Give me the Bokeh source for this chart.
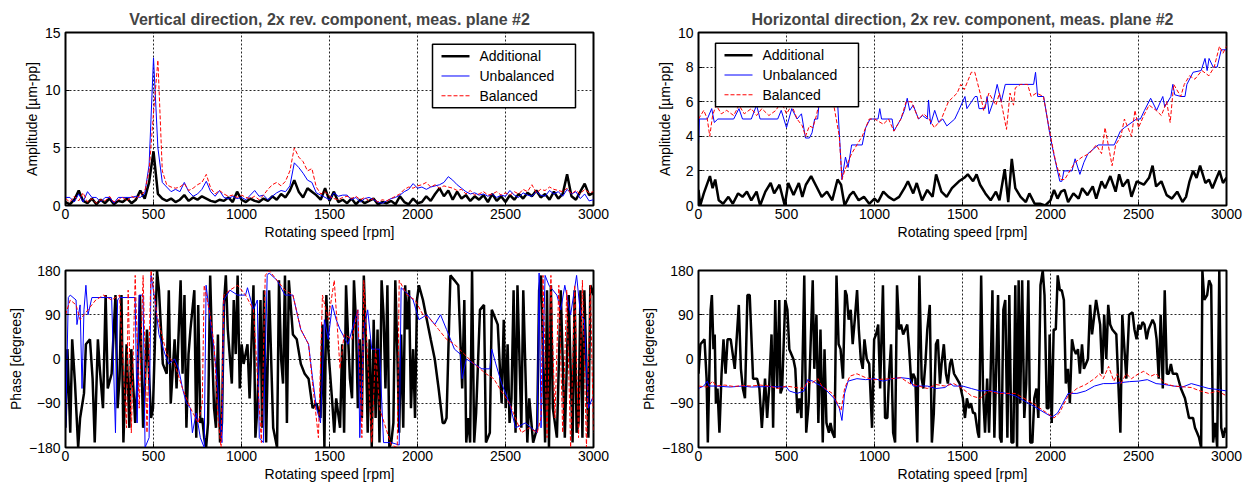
from bokeh.plotting import figure
from bokeh.layouts import column, row
from bokeh.models import Range1d, FixedTicker, ColumnDataSource
from bokeh.core.properties import value
from bokeh.embed import file_html
from bokeh.resources import INLINE

# ---------------- data ----------------
speed_ticks = [0, 500, 1000, 1500, 2000, 2500, 3000]
amp_v_ticks = [0, 5, 10, 15]
amp_h_ticks = [0, 2, 4, 6, 8, 10]
phase_ticks = [-180, -90, 0, 90, 180]
series_names = ["Additional", "Unbalanced", "Balanced"]

# vertical amplitude, sampled every 25 rpm
v_speed = list(range(0, 3001, 25))
v_amp_add = [0.3,0.1,0.5,1.3,0.4,0.2,0.6,0.1,0.5,0.2,
             0.6,0.1,0.4,0.3,0.6,0.2,0.5,1.3,0.6,2.0,
             4.7,1.0,0.6,0.4,0.6,0.3,0.5,0.9,0.4,0.7,
             0.5,0.8,0.6,0.4,0.3,0.5,0.4,0.7,0.3,1.2,
             0.5,0.3,0.6,0.4,0.3,0.6,0.4,0.8,0.5,1.0,
             0.7,1.3,2.2,1.2,0.7,1.5,1.2,0.9,0.5,1.5,
             0.4,1.2,0.3,0.5,0.2,0.6,0.1,0.5,0.2,0.4,
             0.6,0.1,0.3,0.2,0.4,0.1,0.8,0.3,0.1,0.6,
             0.2,0.3,0.8,0.4,1.0,1.5,0.8,1.3,0.5,1.2,
             0.6,0.9,0.4,0.8,0.5,0.9,0.3,1.0,0.4,0.8,
             0.3,0.9,0.5,1.0,0.6,1.1,0.8,1.3,0.7,1.0,
             0.5,1.2,0.6,1.0,2.7,0.8,0.5,1.2,1.9,0.9,
             1.1]
v_amp_unb = [0.7,0.7,0.3,1.0,0.3,1.2,0.7,0.7,0.3,0.7,
             0.7,0.2,0.7,0.7,0.7,0.7,0.8,0.7,1.0,3.5,
             12.8,5.0,2.0,1.6,1.2,1.4,1.2,2.0,1.2,0.8,
             1.0,1.4,2.1,1.2,0.8,1.3,0.7,0.6,0.8,0.6,
             0.7,0.5,0.9,1.3,0.8,0.9,0.5,0.8,1.1,1.3,
             1.2,1.7,3.7,3.3,2.8,2.2,2.0,1.1,0.9,0.7,
             0.5,1.1,0.8,0.9,0.9,0.5,0.7,0.3,0.6,0.7,
             0.5,0.3,0.2,0.4,0.6,0.7,0.9,1.2,1.4,1.9,
             1.5,1.6,1.4,1.6,1.7,1.8,2.0,2.5,2.2,1.8,
             1.5,1.2,1.0,1.1,0.9,1.0,0.8,1.0,0.7,0.9,
             0.8,1.3,0.9,0.7,1.1,0.9,0.8,1.2,0.9,0.8,
             1.3,1.0,1.2,0.8,1.4,1.0,1.2,0.6,1.0,0.4,
             0.5]
v_amp_bal = [0.6,0.3,0.8,0.4,1.1,0.3,0.6,0.2,0.5,0.4,
             0.8,0.3,0.5,0.7,0.4,0.8,0.6,0.9,1.2,3.0,
             8.0,12.6,3.0,1.8,1.6,1.5,1.6,1.9,1.3,1.5,
             1.8,2.0,2.7,1.5,1.0,1.3,1.0,0.8,0.9,0.7,
             0.9,0.7,0.6,0.8,0.5,0.9,1.4,1.8,2.0,1.7,
             2.1,3.0,5.0,4.2,3.8,3.0,3.2,1.6,1.0,1.2,
             0.8,0.6,0.5,0.7,0.8,0.6,0.8,0.5,0.7,0.4,
             0.6,0.3,0.5,0.4,0.6,0.8,1.0,1.4,1.6,1.5,
             1.7,1.8,2.0,1.6,1.8,1.5,1.7,1.6,1.5,1.3,
             1.4,1.0,1.3,0.9,1.0,1.2,0.9,1.0,1.2,0.9,
             1.1,0.9,1.2,1.0,1.4,1.2,1.8,1.1,1.4,1.3,
             1.6,1.4,1.3,1.2,1.5,1.0,1.3,1.0,1.4,1.1,
             1.2]

# horizontal amplitude, (rpm, um-pp) pairs
h_amp_add = [(0,0.9),(10,0.0),(30,0.7),(65,1.7),(80,1.0),(95,1.5),(115,0.3),(140,0.1),(170,0.5),(195,0.1),
             (225,0.7),(250,0.5),(275,0.8),(300,0.3),(330,0.8),(350,0.0),(380,0.8),(410,1.3),(430,0.7),(460,1.2),
             (490,0.0),(510,1.3),(540,0.6),(570,1.3),(590,0.5),(610,1.2),(640,1.7),(670,1.1),(700,0.5),(730,0.8),
             (760,0.3),(790,1.5),(810,1.2),(830,0.0),(860,0.6),(880,0.8),(910,0.3),(940,0.5),(970,0.1),(1000,0.4),
             (1020,0.2),(1050,0.8),(1080,0.5),(1110,0.3),(1140,0.5),(1170,1.0),(1190,1.4),(1220,0.7),(1240,1.3),(1270,0.3),
             (1300,0.9),(1330,0.5),(1350,1.8),(1380,0.8),(1410,0.5),(1440,1.0),(1480,1.4),(1510,1.6),(1530,1.8),(1560,1.4),
             (1580,1.8),(1600,1.2),(1630,0.7),(1660,0.3),(1690,0.8),(1710,0.3),(1740,2.1),(1760,0.2),(1780,2.7),(1800,1.0),
             (1830,0.5),(1860,0.2),(1880,0.7),(1910,0.1),(1940,0.1),(1970,0.0),(2000,0.3),(2020,0.9),(2040,0.4),(2060,0.8),
             (2080,0.9),(2100,0.2),(2130,0.7),(2160,0.4),(2180,1.0),(2210,0.6),(2240,1.1),(2260,0.4),(2290,1.4),(2310,1.0),
             (2340,1.7),(2370,0.8),(2390,1.8),(2410,1.1),(2440,1.5),(2460,0.5),(2490,1.4),(2530,1.2),(2560,1.6),(2580,2.3),
             (2600,1.1),(2630,1.4),(2660,0.6),(2690,0.4),(2720,0.8),(2750,0.2),(2770,0.5),(2790,1.4),(2810,2.0),(2830,1.6),
             (2850,2.3),(2880,1.3),(2900,1.5),(2920,1.0),(2940,1.5),(2960,2.0),(2980,1.3),(3000,1.6)]
h_amp_unb = [(0,3.5),(5,5.0),(50,5.0),(75,5.6),(90,4.8),(110,5.0),(200,5.0),(230,5.6),(250,5.0),(300,5.0),
             (330,5.8),(350,5.0),(450,5.0),(470,5.5),(500,4.5),(530,5.6),(560,5.0),(585,5.3),(608,3.9),(630,3.9),
             (645,4.2),(660,5.0),(677,5.0),(690,6.5),(710,6.8),(760,6.5),(790,6.0),(815,1.5),(835,2.8),(850,2.2),
             (870,3.5),(930,3.5),(950,4.5),(975,5.0),(1020,5.0),(1030,5.6),(1040,5.0),(1100,5.0),(1110,4.3),(1150,5.0),
             (1170,5.5),(1186,6.2),(1200,5.5),(1220,5.8),(1250,5.0),(1273,5.2),(1300,5.0),(1307,6.1),(1319,4.7),(1342,5.5),
             (1365,4.8),(1388,5.0),(1411,4.6),(1456,5.0),(1479,5.5),(1514,6.3),(1525,5.6),(1571,6.3),(1583,6.3),(1594,5.6),
             (1628,5.6),(1640,6.3),(1651,5.3),(1675,6.0),(1697,7.0),(1720,6.0),(1743,7.0),(1904,7.0),(1915,7.7),(1927,6.3),
             (1961,6.3),(1995,4.2),(2018,3.0),(2053,1.4),(2065,1.4),(2076,2.0),(2122,2.0),(2140,2.7),(2167,1.8),(2190,2.5),
             (2213,3.0),(2271,3.5),(2362,3.5),(2397,4.3),(2420,4.5),(2489,5.0),(2511,5.0),(2534,5.5),(2569,6.2),(2603,5.5),
             (2638,6.3),(2649,5.7),(2684,6.3),(2695,7.0),(2706,6.4),(2741,6.3),(2764,6.3),(2775,7.0),(2810,7.7),(2856,7.8),
             (2878,8.5),(2890,7.8),(2901,8.5),(2924,8.0),(2947,8.0),(2970,9.0),(3000,9.0)]
h_amp_bal = [(0,5.0),(30,5.5),(50,5.0),(64,4.0),(80,5.2),(100,5.8),(130,5.3),(160,5.5),(200,5.2),(230,5.8),
             (260,5.3),(300,5.6),(330,5.2),(360,5.6),(400,5.2),(440,5.5),(470,6.0),(500,5.3),(530,5.8),(560,5.0),
             (590,4.6),(608,4.0),(630,4.6),(650,4.5),(670,5.2),(690,6.2),(720,6.5),(760,6.3),(800,4.0),(815,1.5),
             (830,2.0),(870,3.0),(900,3.5),(930,4.0),(970,5.0),(1000,5.0),(1050,4.7),(1080,5.0),(1110,4.3),(1150,5.0),
             (1180,6.0),(1210,6.0),(1250,5.0),(1280,5.3),(1310,5.0),(1340,4.5),(1380,5.0),(1420,6.0),(1470,6.5),(1490,7.0),
             (1510,6.7),(1550,7.7),(1570,7.7),(1600,6.5),(1620,5.5),(1650,6.5),(1690,5.8),(1710,6.5),(1750,4.4),(1770,6.5),
             (1790,5.8),(1800,6.8),(1830,7.0),(1870,7.0),(1890,6.3),(1920,6.5),(1960,6.3),(2000,4.0),(2030,2.5),(2060,1.5),
             (2080,1.5),(2110,2.0),(2140,2.5),(2180,2.8),(2220,3.0),(2260,3.5),(2290,3.0),(2310,4.5),(2350,2.3),(2370,3.5),
             (2400,4.0),(2420,5.0),(2460,4.0),(2480,5.5),(2500,4.5),(2530,5.2),(2560,5.8),(2600,5.5),(2630,5.2),(2660,6.0),
             (2680,4.8),(2700,7.0),(2740,6.3),(2760,7.0),(2790,7.5),(2820,7.3),(2860,7.8),(2900,7.5),(2930,8.0),(2960,9.2),
             (2980,8.8),(3000,9.2)]

# vertical phase, (rpm, degrees) pairs
v_ph_add = [(0,-140),(11,20),(27,-150),(38,40),(54,-50),(72,-180),(83,-120),(105,-70),(116,30),(139,40),
            (154,-40),(166,-170),(184,40),(195,-20),(213,-100),(228,130),(240,-60),(262,-30),(284,130),(296,-100),
            (307,-40),(318,130),(329,-170),(347,30),(363,-140),(374,20),(396,-130),(407,-60),(423,130),(441,-140),
            (463,60),(486,-120),(497,-100),(520,180),(531,140),(553,-10),(575,-30),(587,140),(598,-90),(620,40),
            (631,-60),(654,160),(665,-30),(676,130),(687,-140),(699,10),(710,60),(732,140),(743,-160),(754,110),
            (766,-130),(777,-120),(788,-160),(799,-180),(810,-130),(822,170),(833,20),(844,-100),(855,-140),(866,50),
            (878,-170),(889,-130),(900,110),(911,170),(922,60),(945,-50),(956,120),(967,10),(978,170),(990,-60),
            (1001,30),(1012,-10),(1034,30),(1046,-80),(1068,150),(1079,-160),(1090,-100),(1108,120),(1117,-140),(1128,140),
            (1140,-170),(1157,140),(1180,-140),(1202,-180),(1213,160),(1225,0),(1236,-50),(1247,170),(1258,-130),(1269,160),
            (1292,50),(1314,40),(1337,-10),(1359,-30),(1381,-40),(1404,-100),(1426,-90),(1449,-120),(1460,70),(1471,-180),
            (1482,130),(1493,20),(1516,-90),(1527,-150),(1538,-80),(1560,-140),(1572,30),(1583,-150),(1594,150),(1605,50),
            (1616,-40),(1628,-80),(1639,160),(1650,80),(1661,-100),(1672,40),(1684,-120),(1695,170),(1706,50),(1717,-150),
            (1728,40),(1740,-180),(1751,80),(1762,-120),(1773,60),(1784,-170),(1796,160),(1807,90),(1818,-60),(1829,150),
            (1840,-180),(1851,-170),(1863,-130),(1874,160),(1885,20),(1896,-150),(1907,50),(1919,-140),(1930,150),(1941,60),
            (1952,140),(1963,-100),(1975,20),(1986,-120),(1997,120),(2008,150),(2031,120),(2053,80),(2075,40),(2098,0),
            (2120,-60),(2143,-130),(2154,-130),(2165,-120),(2187,170),(2210,160),(2232,150),(2254,-60),(2266,120),(2277,-170),
            (2288,-120),(2299,-170),(2310,180),(2322,-170),(2333,-110),(2355,100),(2378,110),(2389,-170),(2411,-150),(2422,100),
            (2445,80),(2456,70),(2478,-90),(2490,80),(2501,-100),(2512,30),(2523,-130),(2534,-80),(2546,140),(2557,-150),
            (2568,150),(2590,-140),(2601,140),(2624,-170),(2635,-80),(2657,-170),(2680,-140),(2691,140),(2702,170),(2725,-170),
            (2736,140),(2747,-180),(2758,150),(2769,-100),(2792,-160),(2814,140),(2837,-160),(2859,130),(2881,-170),(2893,140),
            (2904,-150),(2915,-130),(2926,140),(2937,-160),(2948,140),(2971,-160),(2982,150),(2993,140),(3000,130)]
v_ph_unb = [(0,-150),(16,125),(27,130),(60,120),(65,70),(83,110),(94,-60),(105,100),(116,150),(128,90),
            (150,125),(262,125),(284,-150),(296,120),(307,125),(396,125),(407,-130),(419,130),(441,130),(452,-180),
            (475,-160),(486,170),(508,120),(531,50),(565,10),(587,-10),(620,0),(643,-20),(665,-60),(687,-90),
            (710,-100),(721,-150),(743,-110),(766,-160),(788,-180),(799,150),(822,80),(844,20),(866,-60),(878,-130),
            (889,-170),(900,120),(934,140),(978,130),(1023,130),(1034,145),(1068,100),(1090,120),(1101,-160),(1124,-170),
            (1146,170),(1157,175),(1202,160),(1247,130),(1292,130),(1337,60),(1381,30),(1404,-40),(1426,-100),(1449,-130),
            (1471,80),(1493,40),(1516,110),(1538,80),(1560,60),(1605,30),(1661,100),(1672,-160),(1695,60),(1717,100),
            (1740,20),(1784,20),(1807,-170),(1851,-170),(1896,-175),(1907,145),(1952,130),(1975,120),(2008,80),(2053,90),
            (2098,70),(2131,90),(2165,60),(2210,20),(2243,10),(2254,-40),(2277,0),(2322,-10),(2366,-20),(2411,-20),
            (2422,20),(2445,-10),(2478,-50),(2523,-90),(2557,-140),(2613,-130),(2680,-150),(2691,175),(2702,-140),(2725,170),
            (2747,150),(2792,130),(2814,100),(2837,150),(2870,90),(2904,170),(2926,90),(2948,80),(2971,-100),(2993,-80),
            (3000,-80)]
v_ph_bal = [(0,90),(27,120),(60,110),(83,80),(105,90),(172,120),(217,130),(262,120),(307,130),(347,-140),
            (356,140),(374,-150),(396,170),(419,-100),(441,170),(463,-150),(486,180),(519,90),(575,10),(620,-10),
            (665,-60),(710,-100),(754,-130),(777,-90),(788,150),(822,90),(844,30),(866,-120),(884,-180),(900,130),
            (934,140),(978,150),(1023,130),(1068,100),(1113,-170),(1135,170),(1157,180),(1202,160),(1247,140),(1292,130),
            (1337,60),(1381,30),(1404,-50),(1437,-160),(1460,130),(1493,80),(1527,160),(1560,-20),(1583,50),(1628,40),
            (1661,100),(1684,-160),(1695,160),(1740,-170),(1762,20),(1784,-100),(1851,-175),(1885,-180),(1896,160),(1941,130),
            (1986,120),(2031,90),(2075,80),(2120,60),(2165,40),(2210,30),(2266,10),(2322,-10),(2389,-30),(2433,-40),
            (2467,-60),(2523,-90),(2590,-150),(2635,-140),(2680,-150),(2702,-120),(2713,170),(2736,-160),(2758,170),(2781,-120),
            (2803,150),(2825,-150),(2848,140),(2870,-180),(2893,150),(2915,-160),(2937,160),(2960,-180),(2982,150),(3000,-150)]

# horizontal phase, (rpm, degrees) pairs
h_ph_add = [(0,-30),(11,30),(34,40),(46,-40),(53,-170),(62,-20),(69,100),(76,130),(85,20),(92,50),
            (99,-90),(108,-60),(119,-150),(131,-30),(142,40),(154,-30),(165,40),(183,40),(206,-20),(229,110),
            (241,-20),(252,-60),(264,-80),(278,130),(291,130),(310,-40),(333,-40),(346,-60),(360,-140),(378,-40),
            (390,-120),(401,-60),(415,50),(424,-140),(436,120),(447,-60),(459,120),(466,-70),(475,-60),(493,120),
            (505,100),(516,20),(539,0),(550,-20),(562,-110),(573,-80),(585,-120),(601,170),(612,-150),(626,-90),
            (649,160),(658,-20),(670,90),(681,-130),(693,60),(706,-170),(716,20),(727,-130),(741,-150),(750,-130),
            (761,-150),(773,-160),(784,170),(796,30),(807,20),(821,-40),(833,140),(842,130),(853,80),(865,100),
            (876,30),(888,80),(901,140),(911,60),(922,0),(933,-20),(943,40),(956,0),(970,-10),(986,-140),
            (998,40),(1009,50),(1021,70),(1032,-60),(1048,150),(1060,-120),(1073,-120),(1083,-30),(1094,30),(1106,-150),
            (1117,-170),(1128,150),(1140,60),(1151,70),(1163,50),(1186,70),(1197,20),(1209,-50),(1220,-30),(1232,-40),
            (1243,-170),(1255,170),(1268,-40),(1278,-60),(1289,-10),(1300,60),(1314,110),(1326,-170),(1337,-110),(1349,30),
            (1360,40),(1372,-50),(1381,-10),(1394,30),(1406,-30),(1417,-50),(1429,-10),(1438,0),(1452,-30),(1468,-40),
            (1484,-50),(1502,-80),(1514,-120),(1525,-80),(1537,-100),(1548,-90),(1560,-110),(1571,-110),(1587,-150),(1594,-160),
            (1606,170),(1617,-70),(1628,-150),(1640,-40),(1651,-150),(1658,-60),(1670,140),(1681,-160),(1690,-40),(1702,130),
            (1713,-160),(1722,-170),(1732,100),(1743,120),(1755,-160),(1766,130),(1778,-170),(1789,-170),(1800,150),(1810,-180),
            (1819,160),(1828,-90),(1839,160),(1851,-120),(1862,-50),(1874,160),(1885,-170),(1897,-170),(1908,-80),(1920,-60),
            (1931,-120),(1943,150),(1956,180),(1966,130),(1979,-100),(1989,-100),(1995,50),(2007,-130),(2018,60),(2030,60),
            (2041,170),(2053,140),(2064,140),(2076,120),(2087,-50),(2099,-20),(2110,-90),(2122,40),(2133,20),(2145,10),
            (2156,20),(2167,-30),(2179,30),(2190,-20),(2213,0),(2225,110),(2236,50),(2259,120),(2282,70),(2294,-30),
            (2305,90),(2317,0),(2328,110),(2339,70),(2351,60),(2374,50),(2397,-150),(2408,90),(2420,20),(2431,-40),
            (2447,90),(2466,95),(2477,60),(2489,40),(2500,70),(2511,60),(2523,75),(2534,70),(2546,40),(2557,60),
            (2580,80),(2592,70),(2603,40),(2615,-40),(2626,90),(2638,-60),(2649,140),(2661,-30),(2672,-30),(2684,-10),
            (2695,-30),(2718,-30),(2741,-60),(2764,-80),(2787,-120),(2810,-120),(2821,-140),(2833,-150),(2844,-160),(2856,-180),
            (2863,180),(2874,120),(2890,130),(2901,160),(2913,150),(2924,-170),(2936,-130),(2947,-180),(2959,180),(2970,-140),
            (2982,-160),(2993,-140),(3000,-150)]
h_ph_unb = [(0,-60),(30,-55),(50,-45),(60,-55),(100,-55),(180,-57),(250,-55),(300,-57),(400,-56),(500,-57),
            (516,-65),(560,-70),(600,-65),(620,-42),(650,-45),(670,-50),(700,-55),(730,-65),(770,-80),(800,-100),
            (815,-125),(830,-70),(850,-45),(900,-40),(950,-42),(1000,-40),(1050,-45),(1100,-40),(1150,-38),(1200,-40),
            (1220,-55),(1300,-55),(1350,-60),(1400,-58),(1430,-50),(1450,-55),(1500,-55),(1550,-60),(1600,-65),(1650,-64),
            (1700,-67),(1750,-70),(1800,-75),(1850,-85),(1900,-95),(1970,-110),(2010,-118),(2040,-110),(2070,-90),(2100,-70),
            (2150,-70),(2200,-65),(2250,-55),(2300,-50),(2350,-50),(2400,-48),(2450,-46),(2500,-45),(2550,-42),(2600,-50),
            (2650,-52),(2700,-55),(2750,-57),(2800,-50),(2850,-55),(2900,-60),(2950,-62),(3000,-65)]
h_ph_bal = [(0,-55),(50,-57),(80,-45),(100,-55),(150,-53),(200,-56),(250,-54),(300,-55),(350,-53),(400,-55),
            (450,-60),(500,-55),(550,-58),(600,-60),(620,-45),(640,-50),(680,-40),(700,-55),(760,-70),(790,-90),
            (810,-105),(830,-60),(860,-35),(900,-30),(950,-38),(1000,-42),(1100,-40),(1150,-38),(1200,-50),(1250,-55),
            (1300,-60),(1350,-52),(1400,-55),(1450,-50),(1500,-60),(1550,-75),(1600,-80),(1650,-65),(1700,-70),(1800,-70),
            (1900,-90),(1980,-110),(2020,-120),(2050,-110),(2100,-75),(2150,-60),(2200,-52),(2250,-40),(2280,-30),(2300,-40),
            (2330,-15),(2360,-45),(2380,-30),(2400,-50),(2430,-30),(2460,-40),(2500,-30),(2530,-25),(2570,-35),(2600,-30),
            (2650,-50),(2700,-55),(2800,-58),(2850,-65),(2900,-70),(2950,-65),(3000,-75)]

# ---------------- layout constants (pixels) ----------------
FONT = "Liberation Sans"
STYLES = [dict(line_color="black", line_width=2.5),
          dict(line_color="blue", line_width=1),
          dict(line_color="red", line_width=1, line_dash="4 2")]
FRAME_W, FRAME_H = 528, 175          # plot-area size of the amplitude panels
LEG_W, LEG_H, LEG_ROW = 143, 64, 20  # legend box size and row height
KEY_X0, KEY_X1, TEXT_X = 9, 37, 47   # key line span and label start inside the box


def make_fig(width, height, bl, br, bt, bb, yr, yticks, ylabel, title=None):
    kw = dict(width=width, height=height, x_range=Range1d(0, 3000), y_range=Range1d(*yr),
              output_backend="svg", toolbar_location=None,
              min_border_left=bl, min_border_right=br, min_border_top=bt, min_border_bottom=bb)
    if title:
        kw["title"] = title
    p = figure(**kw)
    if title:
        p.title.align = "center"
        p.title.text_font = FONT
        p.title.text_font_size = "16px"
        p.title.text_font_style = "bold"
        p.title.standoff = 9
    else:
        p.title.visible = False
    p.background_fill_color = "white"
    p.border_fill_color = "white"
    p.outline_line_color = "black"
    p.outline_line_width = 2
    p.outline_line_alpha = 1
    p.xaxis.ticker = FixedTicker(ticks=speed_ticks)
    p.yaxis.ticker = FixedTicker(ticks=yticks)
    p.xaxis.axis_label = "Rotating speed [rpm]"
    p.yaxis.axis_label = ylabel
    for ax in (p.xaxis[0], p.yaxis[0]):
        ax.major_label_text_font = FONT
        ax.major_label_text_font_size = "14px"
        ax.major_label_text_color = "black"
        ax.axis_label_text_font = FONT
        ax.axis_label_text_font_size = "14px"
        ax.axis_label_text_font_style = "normal"
        ax.axis_label_text_color = "black"
        ax.axis_line_color = "black"
        ax.major_tick_in = 4
        ax.major_tick_out = 0
        ax.major_tick_line_color = "black"
        ax.minor_tick_line_color = None
        ax.major_label_standoff = 3
        ax.axis_label_standoff = 2
    p.yaxis.major_label_standoff = 5
    for g in (p.xgrid[0], p.ygrid[0]):
        g.grid_line_color = "black"
        g.grid_line_dash = "2 2"
        g.grid_line_width = 1
        g.grid_line_alpha = 0.85
    return p


def draw(p, series):
    for (xs, ys), st in zip(series, STYLES):
        src = ColumnDataSource(data=dict(x=list(xs), y=list(ys)))
        p.line("x", "y", source=src, **st)


def add_key(p, left, bottom):
    """Legend box drawn on a pixel-scaled overlay range of the plot area."""
    p.extra_x_ranges = {"px": Range1d(0, FRAME_W)}
    p.extra_y_ranges = {"px": Range1d(0, FRAME_H)}
    pk = dict(x_range_name="px", y_range_name="px", level="overlay")
    top = bottom + LEG_H
    p.quad(left=[left], right=[left + LEG_W], bottom=[bottom], top=[top],
           fill_color="white", line_color="black", line_width=1.5, **pk)
    rows_y = [top - 2 - LEG_ROW / 2 - i * LEG_ROW for i in range(len(series_names))]
    for y, st in zip(rows_y, STYLES):
        p.line([left + KEY_X0, left + KEY_X1], [y, y], **st, **pk)
    p.text(x=[left + TEXT_X] * len(series_names), y=rows_y, text=series_names,
           text_font=value(FONT), text_font_size="14px", text_color="black",
           text_baseline="middle", text_align="left", **pk)


def unzip(pairs):
    return [a for a, _ in pairs], [b for _, b in pairs]


p1 = make_fig(630, 242, 65, 37, 32, 35, (0, 15), amp_v_ticks, "Amplitude [µm-pp]",
              "Vertical direction, 2x rev. component, meas. plane #2")
draw(p1, [(v_speed, v_amp_add), (v_speed, v_amp_unb), (v_speed, v_amp_bal)])
add_key(p1, 367, 99)

p2 = make_fig(623, 242, 68, 27, 32, 35, (0, 10), amp_h_ticks, "Amplitude [µm-pp]",
              "Horizontal direction, 2x rev. component, meas. plane #2")
draw(p2, [unzip(h_amp_add), unzip(h_amp_unb), unzip(h_amp_bal)])
add_key(p2, 17, 100)

p3 = make_fig(630, 255, 65, 37, 28, 50, (-180, 180), phase_ticks, "Phase [degrees]")
draw(p3, [unzip(v_ph_add), unzip(v_ph_unb), unzip(v_ph_bal)])

p4 = make_fig(623, 255, 68, 27, 28, 50, (-180, 180), phase_ticks, "Phase [degrees]")
draw(p4, [unzip(h_ph_add), unzip(h_ph_unb), unzip(h_ph_bal)])

layout = column(row(p1, p2, spacing=0), row(p3, p4, spacing=0), spacing=0)

with open("out.html", "w") as f:
    f.write(file_html(layout, INLINE))
